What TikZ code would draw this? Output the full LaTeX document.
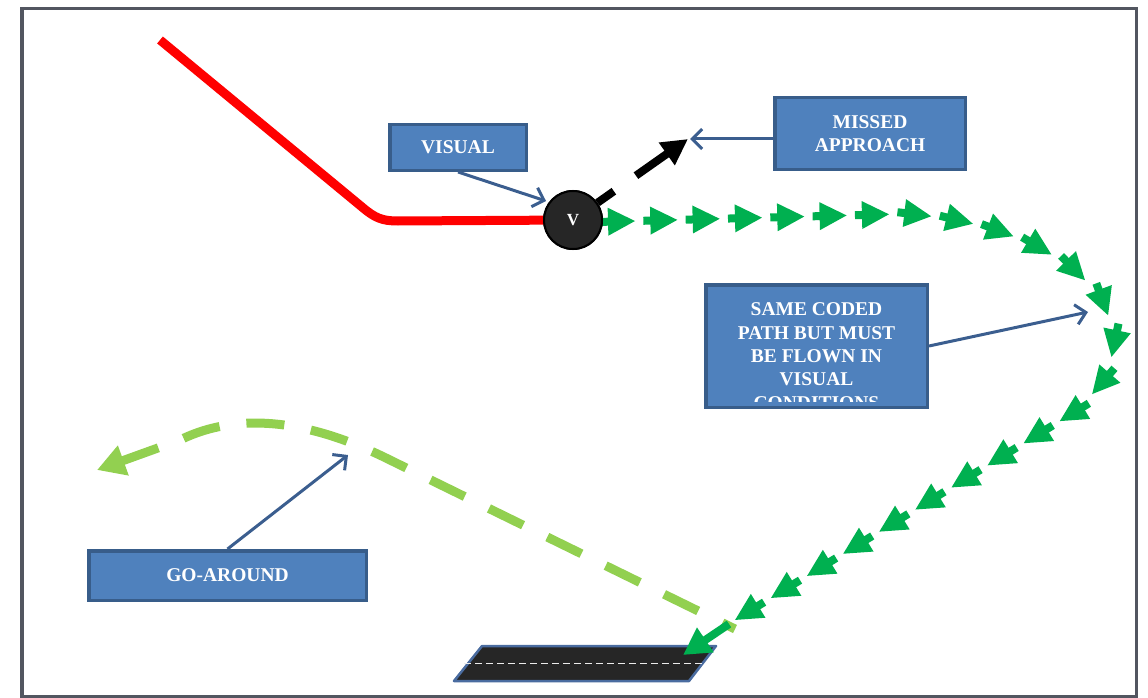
\documentclass[tikz,border=0pt]{standalone}
\usepackage{fontspec}
\setmainfont{Liberation Serif}
\usetikzlibrary{arrows.meta,decorations.markings}
\definecolor{boxfill}{RGB}{79,129,189}
\definecolor{boxline}{RGB}{56,93,138}
\definecolor{annot}{RGB}{59,94,143}
\definecolor{gpath}{RGB}{0,176,80}
\definecolor{lgreen}{RGB}{146,208,80}
\definecolor{framec}{RGB}{82,86,96}
\definecolor{rwfill}{RGB}{38,38,38}
\definecolor{rwline}{RGB}{74,108,160}
\begin{document}
\begin{tikzpicture}[x=1pt,y=-1pt,
  box/.style={draw=boxline, line width=3.5pt, fill=boxfill, text=white,
    font=\fontsize{19.5}{23.4}\selectfont\bfseries, align=center, inner sep=0pt},
  boxtext/.style={text=white, font=\fontsize{19.5}{23.4}\selectfont\bfseries, align=center, inner sep=0pt},
  callout/.style={draw=annot, line width=3pt, -{Straight Barb[length=10pt,width=20pt]}},
  garrowshape/.code={},
  garrows/.style={decoration={markings,
    mark=between positions 0 and 0.98 step 0.041666 with {
      \fill[gpath] (-34pt,-4pt) rectangle (-24pt,4pt);
      \fill[gpath] (-27pt,-14pt) -- (0pt,0pt) -- (-27pt,14pt) -- cycle;},
    mark=at position 0.9999 with {
      \fill[gpath] (-34pt,-4pt) rectangle (-24pt,4pt);
      \fill[gpath] (-27pt,-14pt) -- (0pt,0pt) -- (-27pt,14pt) -- cycle;}},
    postaction=decorate}
]
\useasboundingbox (0,0) rectangle (1148,698);

% frame
\draw[framec, line width=3.5pt] (22,8.5) rectangle (1136.5,696.5);

% runway
\draw[fill=rwfill, draw=rwline, line width=2.5pt, line join=round]
  (482,646) -- (716,646) -- (689,681) -- (454,681) -- cycle;
\draw[white!85!gray, line width=1.2pt, dash pattern=on 7pt off 4pt] (464,663.5) -- (703,663.5);

% go-around path
\draw[lgreen, line width=9pt, dash pattern=on 38pt off 27pt, dash phase=24pt,
  -{Triangle[length=28pt,width=30pt]}]
  (735,629) -- (390,460) .. controls (320,425) and (245,408) .. (180,440) -- (97,470);

% green coded path
\path[garrows] (635,221) -- (900,214) .. controls (990,216) and (1110,260) .. (1113,340)
  .. controls (1114,375) and (1090,402) .. (1060,421) -- (735,620);
\coordinate (lastA) at (729,624);
\coordinate (lastB) at (683,655);
\draw[gpath, line width=8pt, -{Triangle[length=27pt,width=28pt]}] (lastA) -- (lastB);

% red approach
\node[circle, draw=black, line width=2pt, fill=rwfill, minimum size=58pt, inner sep=0pt] (V) at (573,220) {};
\draw[red, line width=9pt] (160,40) -- (362,207) .. controls (375,218) and (382,221) .. (398,221) -- (V.center);
\node[circle, draw=black, line width=2pt, fill=rwfill, minimum size=58pt, inner sep=0pt,
  text=white, font=\fontsize{17}{19}\selectfont\bfseries] (V2) at (573,220) {V};

% missed approach arrow
\coordinate (matip) at (688,139);
\draw[black, line width=8pt, dash pattern=on 20pt off 27pt on 80pt,
  -{Triangle[length=26pt,width=26pt]}] (V2) -- (matip);

% boxes
\node[box, minimum width=136.5pt, minimum height=45.5pt] (visual) at (458,147.5) {VISUAL};
\node[box, minimum width=190.5pt, minimum height=71.5pt] (missed) at (870,133.5) {MISSED\\APPROACH};
\node[box, minimum width=221.5pt, minimum height=122.5pt] (same) at (816.5,346) {};
\begin{scope}
  \clip (706,285) rectangle (927,401.5);
  \node[boxtext, anchor=north] (sametext) at (816.5,302.5)
    {SAME CODED\\PATH BUT MUST\\BE FLOWN IN\\VISUAL\\CONDITIONS};
\end{scope}
\node[box, minimum width=277.5pt, minimum height=49.5pt] (go) at (227.5,575.5) {GO-AROUND};

% callouts
\coordinate (vtip) at (546,201);
\coordinate (stip) at (1088,312);
\coordinate (gtip) at (348,455);
\coordinate (mtip) at (690,139);
\draw[callout] (visual.south) -- (vtip);
\draw[callout] (missed.west |- mtip) -- (mtip);
\draw[callout] (same.east) -- (stip);
\draw[callout] (go.north) -- (gtip);
\end{tikzpicture}
\end{document}
